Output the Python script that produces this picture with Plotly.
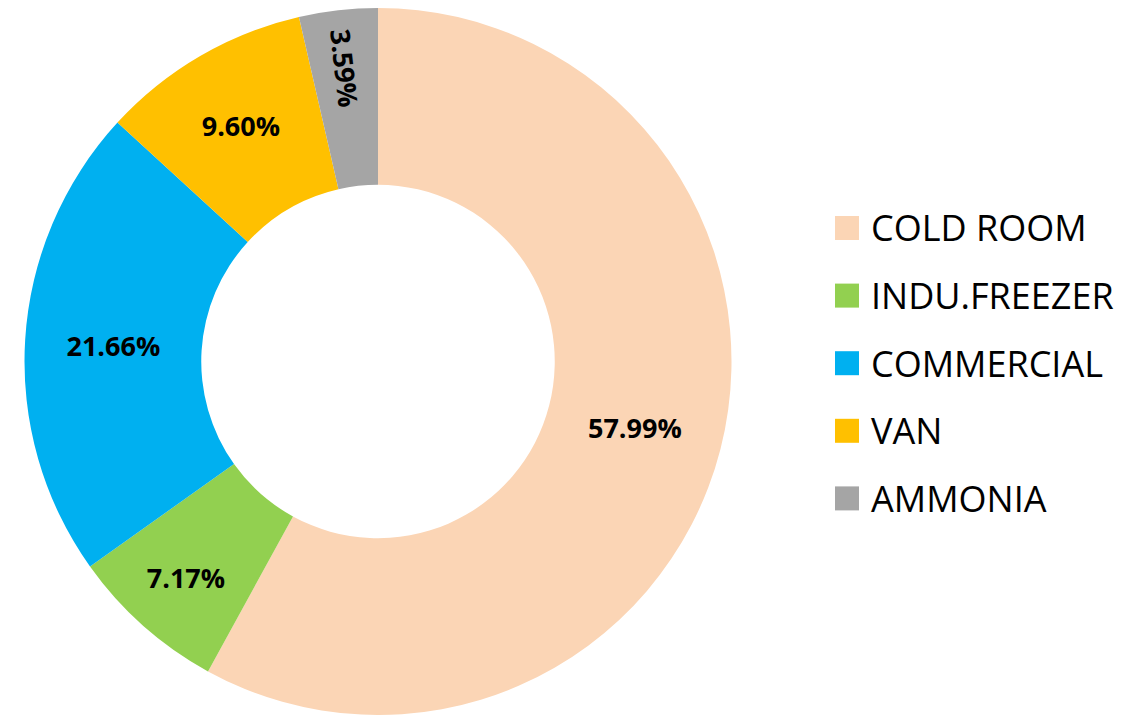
import plotly.graph_objects as go

labels = ["COLD ROOM", "INDU.FREEZER", "COMMERCIAL", "VAN", "AMMONIA"]
values = [57.99, 7.17, 21.66, 9.60, 3.59]
colors = ["#FBD5B5", "#92D050", "#00B0F0", "#FFC000", "#A5A5A5"]
radial_labels = ["AMMONIA"]

# page body has an 8px margin: figure is drawn 8px in from the window edge
OFF = 8
W, H = 1148 - OFF, 715 - OFF

text_main = ["" if l in radial_labels else f"{v:.2f}%" for l, v in zip(labels, values)]
text_rad = [f"{v:.2f}%" if l in radial_labels else "" for l, v in zip(labels, values)]

R = H / 2
CX = 378 - OFF

fig = go.Figure()
common = dict(
    labels=labels, values=values, sort=False, direction="clockwise", hole=0.5,
    domain=dict(x=[(CX - R) / W, (CX + R) / W], y=[0, 1]),
    textinfo="text", textposition="inside",
    textfont=dict(family="Open Sans", size=27, color="black", weight="bold"),
    showlegend=False,
)
fig.add_trace(go.Pie(text=text_main, marker=dict(colors=colors, line=dict(width=0)),
                     insidetextorientation="horizontal", **common))
fig.add_trace(go.Pie(text=text_rad, marker=dict(colors=["rgba(0,0,0,0)"] * len(labels), line=dict(width=0)),
                     insidetextorientation="radial", hoverinfo="skip", **common))

def px(x):
    return (x - OFF) / W

def py(y):
    return 1 - (y - OFF) / H

# custom legend (large square swatches)
for i, (lab, col) in enumerate(zip(labels, colors)):
    cy = 228 + i * 67.6
    fig.add_shape(type="rect", xref="paper", yref="paper",
                  x0=px(835), x1=px(859), y0=py(cy + 12), y1=py(cy - 12),
                  fillcolor=col, line=dict(width=0))
    fig.add_annotation(xref="paper", yref="paper", x=px(869), y=py(cy),
                       xanchor="left", yanchor="middle", text=lab, showarrow=False,
                       font=dict(family="Open Sans", size=36, color="black"))

fig.update_layout(
    width=W, height=H,
    margin=dict(l=0, r=0, t=0, b=0),
    paper_bgcolor="white", plot_bgcolor="white",
    uniformtext=dict(minsize=27, mode="show"),
)
fig.write_html("out.html")
